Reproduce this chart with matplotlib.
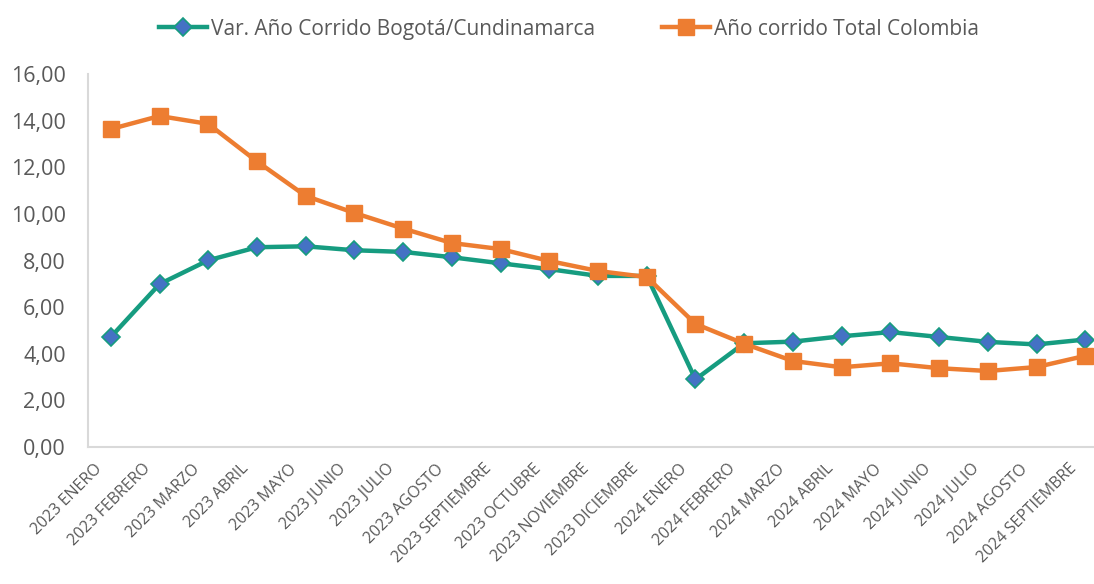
import matplotlib
matplotlib.use("Agg")
import matplotlib.pyplot as plt
from matplotlib.ticker import FuncFormatter
from matplotlib.transforms import ScaledTranslation

meses = ["ENERO", "FEBRERO", "MARZO", "ABRIL", "MAYO", "JUNIO", "JULIO",
         "AGOSTO", "SEPTIEMBRE", "OCTUBRE", "NOVIEMBRE", "DICIEMBRE"]
categorias = ["2023 " + m for m in meses] + ["2024 " + m for m in meses[:9]]

bogota = [4.72, 6.99, 8.01, 8.57, 8.61, 8.44, 8.37, 8.14, 7.88, 7.63, 7.34, 7.34,
          2.90, 4.45, 4.52, 4.75, 4.93, 4.72, 4.51, 4.40, 4.61]
colombia = [13.64, 14.20, 13.86, 12.25, 10.77, 10.04, 9.37, 8.75, 8.49, 7.98, 7.55, 7.29,
            5.28, 4.43, 3.69, 3.42, 3.59, 3.38, 3.26, 3.43, 3.91]

plt.rcParams['font.family'] = ['Open Sans', 'DejaVu Sans']

fig = plt.figure(figsize=(10.94, 5.84), dpi=100)
ax = fig.add_axes([0.0804, 0.2346, 0.9196, 0.6386])

x = range(len(categorias))
ax.plot(x, bogota, color="#169C80", lw=3.2, marker="D", markersize=9,
        markerfacecolor="#4472C4", markeredgecolor="#169C80", markeredgewidth=1.2,
        label="Var. Año Corrido Bogotá/Cundinamarca", zorder=3)
ax.plot(x, colombia, color="#ED7D31", lw=3.2, marker="s", markersize=12,
        markerfacecolor="#ED7D31", markeredgecolor="#ED7D31",
        label="Año corrido Total Colombia", zorder=4)

ax.set_xlim(-0.47, 20.18)
ax.set_ylim(0, 16)
ax.set_yticks(range(0, 17, 2))
ax.yaxis.set_major_formatter(FuncFormatter(lambda v, p: f"{v:.2f}".replace(".", ",")))
ax.set_xticks(list(x))
ax.set_xticklabels(categorias, rotation=45, ha="right", rotation_mode="anchor",
                   fontsize=11.5, color="#595959")
ax.tick_params(axis="y", labelsize=15.5, colors="#595959", length=0, pad=16)
ax.tick_params(axis="x", length=0, pad=10)

# labels sit a bit left of their tick, like in excel
shift = ScaledTranslation(-12 / 72, 0, fig.dpi_scale_trans)
for lbl in ax.get_xticklabels():
    lbl.set_transform(lbl.get_transform() + shift)

for s in ["top", "right"]:
    ax.spines[s].set_visible(False)
for s in ["left", "bottom"]:
    ax.spines[s].set_color("#D9D9D9")
    ax.spines[s].set_linewidth(1.5)

fig.legend(loc="upper center", bbox_to_anchor=(0.52, 1.0), ncol=2, frameon=False,
           fontsize=15, labelcolor="#595959", handlelength=2.3, columnspacing=3.2,
           handletextpad=0.2)

fig.savefig("out.png", dpi=100)
